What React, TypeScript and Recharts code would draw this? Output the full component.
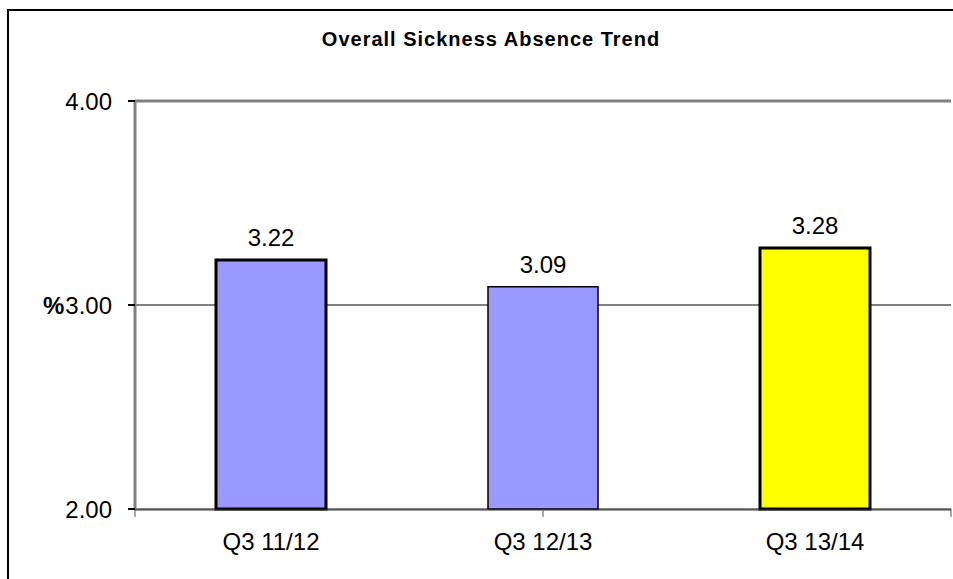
import React from 'react';
import {
  BarChart,
  Bar,
  Cell,
  XAxis,
  YAxis,
  CartesianGrid,
  ReferenceLine,
  LabelList,
  Label
} from 'recharts';

const categories = ['Q3 11/12', 'Q3 12/13', 'Q3 13/14'];
const absenceRates = [3.22, 3.09, 3.28];
const barColors = ['#9999FF', '#9999FF', '#FFFF00'];
const barStrokeWidths = [3, 1.5, 3];
const yTicks = [2, 3, 4];
const boundaryTicks = [0, 1, 2, 3];

const data = categories.map((quarter, i) => ({ quarter, rate: absenceRates[i] }));

const font = '"Liberation Sans", Arial, sans-serif';

const App: React.FC = () => {
  return (
    <div style={{ position: 'absolute', left: 0, top: 0, width: 953, height: 579, overflow: 'hidden', background: '#fff' }}>
      <div
        style={{
          position: 'absolute',
          left: 7,
          top: 9,
          width: 1100,
          height: 1100,
          border: '2px solid #000'
        }}
      />
      <div
        style={{
          position: 'absolute',
          left: 0,
          top: 29,
          width: 982,
          textAlign: 'center',
          fontFamily: font,
          fontWeight: 'bold',
          fontSize: 20,
          lineHeight: '20px',
          letterSpacing: 1
        }}
      >
        Overall Sickness Absence Trend
      </div>
      <div style={{ position: 'absolute', left: 0, top: 0 }}>
        <BarChart
          width={953}
          height={579}
          data={data}
          margin={{ top: 101, right: 2, bottom: 68, left: 0 }}
          style={{ fontFamily: font }}
        >
          <CartesianGrid vertical={false} stroke="#808080" strokeWidth={2} />
          <XAxis
            xAxisId="cat"
            dataKey="quarter"
            height={1}
            tickLine={false}
            tickSize={0}
            tickMargin={23}
            axisLine={{ stroke: '#333', strokeWidth: 1 }}
            tick={{ fill: '#000', fontSize: 24 }}
            interval={0}
          />
          <XAxis
            xAxisId="b"
            type="number"
            domain={[0, 3]}
            ticks={boundaryTicks}
            allowDataOverflow
            height={1}
            axisLine={false}
            tickSize={8}
            tickLine={{ stroke: '#555', strokeWidth: 1 }}
            tickFormatter={() => ''}
            interval={0}
          />
          <YAxis
            width={135}
            domain={[2, 4]}
            ticks={yTicks}
            tickFormatter={(v: number) => v.toFixed(2)}
            tickSize={7}
            tickMargin={16}
            tick={{ fill: '#000', fontSize: 24 }}
            tickLine={{ stroke: '#000', strokeWidth: 2 }}
            axisLine={{ stroke: '#808080', strokeWidth: 3 }}
          >
            <Label value="%" position="insideLeft" offset={43} fill="#000" fontSize={24} fontWeight="bold" />
          </YAxis>
          <ReferenceLine xAxisId="b" y={4} stroke="#808080" strokeWidth={3} />
          <ReferenceLine xAxisId="b" x={3} stroke="#808080" strokeWidth={3} />
          <Bar xAxisId="cat" dataKey="rate" barSize={110} stroke="#000" isAnimationActive={false}>
            {data.map((d, i) => (
              <Cell key={d.quarter} fill={barColors[i]} stroke="#000" strokeWidth={barStrokeWidths[i]} />
            ))}
            <LabelList
              dataKey="rate"
              position="top"
              offset={14}
              fill="#000"
              fontSize={24}
              formatter={(v: number) => v.toFixed(2)}
            />
          </Bar>
        </BarChart>
      </div>
    </div>
  );
};

export default App;
